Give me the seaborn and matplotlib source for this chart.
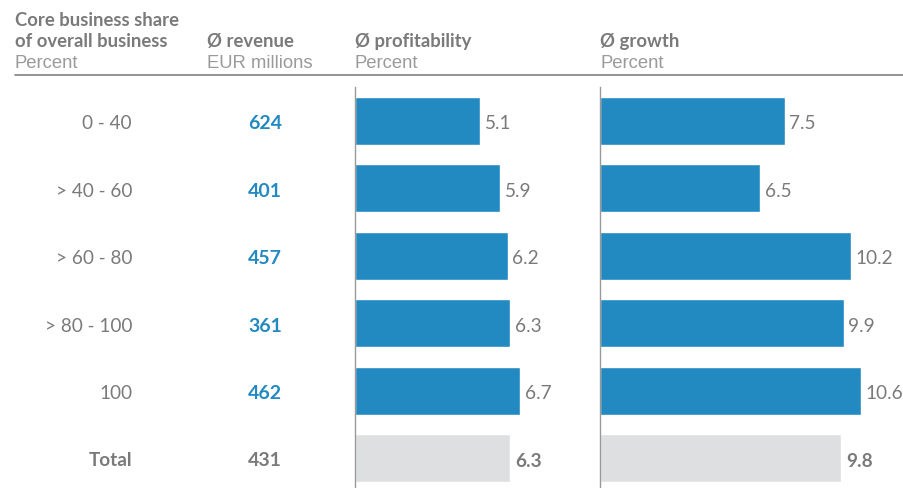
import matplotlib
matplotlib.use("Agg")
import matplotlib.pyplot as plt
import seaborn as sns
import pandas as pd

categories = ["0 - 40", "> 40 - 60", "> 60 - 80", "> 80 - 100", "100", "Total"]
revenue = [624, 401, 457, 361, 462, 431]
profitability = [5.1, 5.9, 6.2, 6.3, 6.7, 6.3]
growth = [7.5, 6.5, 10.2, 9.9, 10.6, 9.8]

BLUE = "#2389C1"
GREY_BAR = "#DEDFE1"
TXT = "#7A7A7A"
SUB = "#9A9A9A"

sns.set_style("white")
plt.rcParams["font.family"] = ["Lato", "DejaVu Sans"]

df = pd.DataFrame({"cat": categories, "rev": revenue, "prof": profitability, "gro": growth})
df["kind"] = ["core"] * 5 + ["total"]

W, H = 904, 489
fig = plt.figure(figsize=(W / 100, H / 100), dpi=100)

def px_ax(x0, y0, x1, y1):
    return fig.add_axes([x0 / W, 1 - y1 / H, (x1 - x0) / W, (y1 - y0) / H])

scale = 24.6  # px per unit
ax1 = px_ax(355, 88, 590, 489)
ax2 = px_ax(600, 88, 904, 489)

FS = 13.3
palette = {"core": BLUE, "total": GREY_BAR}
for ax, col, x0, x1 in [(ax1, "prof", 355, 590), (ax2, "gro", 600, 904)]:
    sns.barplot(data=df, x=col, y="cat", hue="kind", palette=palette, dodge=False,
                width=0.71, legend=False, ax=ax, order=categories, saturation=1)
    ax.set_xlim(0, (x1 - x0) / scale)
    ax.set_ylim(5.445, -0.504)
    for s in ["top", "right", "bottom"]:
        ax.spines[s].set_visible(False)
    ax.spines["left"].set_color("#999999")
    ax.spines["left"].set_linewidth(1.0)
    ax.set_xticks([])
    ax.set_yticks([])
    ax.set_xlabel("")
    ax.set_ylabel("")
    ax.patch.set_alpha(0)
    for i, v in enumerate(df[col]):
        ax.text(v + 0.2, i + 0.03, f"{v:.1f}", va="center", ha="left", fontsize=FS + 0.4,
                color=TXT, fontweight="bold" if i == 5 else "normal")

# row labels and revenue
for i, (c, r) in enumerate(zip(categories, revenue)):
    yc = 124 + i * 67.4
    bold = i == 5
    fig.text(132 / W, 1 - yc / H, c, ha="right", va="center", fontsize=FS + 0.3,
             color=TXT, fontweight="bold" if bold else "normal")
    fig.text(265 / W, 1 - yc / H, str(r), ha="center", va="center", fontsize=FS + 0.7,
             color=TXT if bold else BLUE, fontweight="bold")

# headers
def hdr(x, y, s, bold=True):
    if bold:
        fig.text(x / W, 1 - y / H, s, ha="left", va="center", fontsize=FS,
                 color=TXT, fontweight="bold")
    else:
        fig.text(x / W, 1 - y / H, s, ha="left", va="center", fontsize=FS,
                 color=SUB, family=["Liberation Sans", "DejaVu Sans"])

hdr(15, 20, "Core business share")
hdr(15, 42, "of overall business")
hdr(15, 63, "Percent", bold=False)
hdr(207, 42, "Ø revenue")
hdr(207, 63, "EUR millions", bold=False)
hdr(355, 42, "Ø profitability")
hdr(355, 63, "Percent", bold=False)
hdr(600, 42, "Ø growth")
hdr(600, 63, "Percent", bold=False)

fig.add_artist(plt.Line2D([15 / W, 1], [1 - 76 / H, 1 - 76 / H], color="#808080", lw=1.2))

fig.savefig("out.png", dpi=100)
